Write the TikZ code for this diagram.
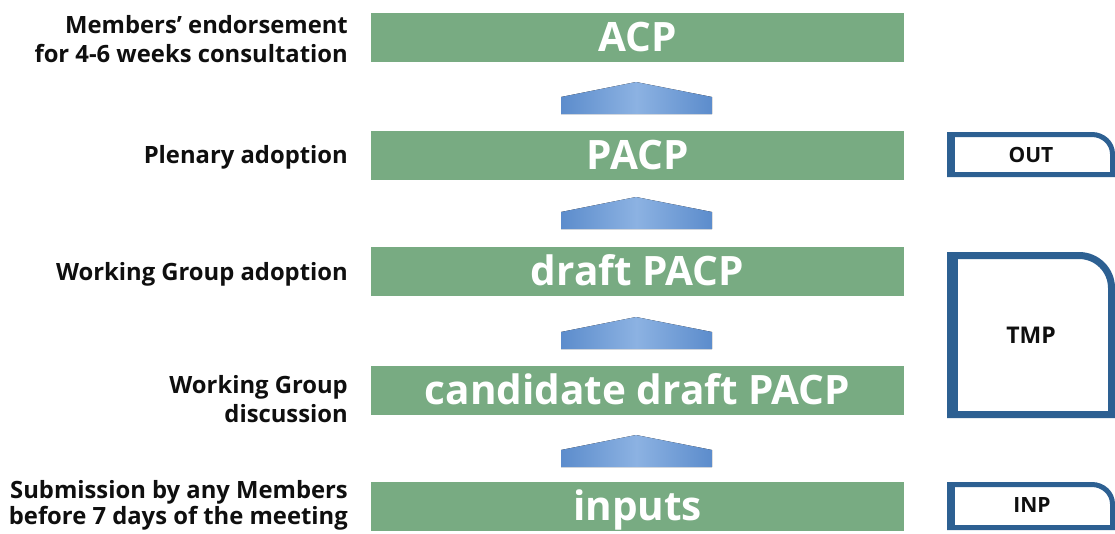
\documentclass[tikz,border=0pt]{standalone}
\usepackage{fontspec}
\setmainfont{Open Sans}
\definecolor{bargreen}{RGB}{120,171,130}
\definecolor{boxblue}{RGB}{45,96,146}
\definecolor{arrdark}{RGB}{92,140,204}
\definecolor{arrlight}{RGB}{140,178,226}
\definecolor{labelcol}{RGB}{15,15,15}
\tikzset{
  bar/.style={fill=bargreen, minimum width=533pt, minimum height=49pt, inner sep=0pt,
    text=white, font=\bfseries\fontsize{40.5}{42}\selectfont, text height=28.5pt, text depth=0pt},
  lbl/.style={anchor=base east, inner sep=0pt, text=labelcol, font=\bfseries\fontsize{23.8}{28}\selectfont},
  boxlbl/.style={inner sep=0pt, text=labelcol, font=\bfseries\fontsize{21}{24}\selectfont},
  sidebox/.style={draw=boxblue, line width=6pt, fill=white},
  upblock/.style={left color=arrdark, right color=arrdark, middle color=arrlight},
}
\newcommand\upblockat[1]{%
  \fill[upblock] (561,#1+32) -- (561,#1+15) -- (636,#1) -- (712,#1+15) -- (712,#1+32) -- cycle;}
\begin{document}
\begin{tikzpicture}[x=1pt,y=-1pt]
\useasboundingbox (0,0) rectangle (1115,533);
\fill[white] (0,0) rectangle (1115,533);

% bars
\node[bar] (acp)  at (637.5,37.5)  {ACP};
\node[bar] (pacp) at (637.5,155.5) {PACP};
\node[bar] (dpacp) at (637.5,271.5) {draft PACP};
\node[bar] (cdpacp) at (637.5,390.5) {candidate draft PACP};
\node[bar] (inp) at (637.5,506.5) {inputs};

% block arrows
\upblockat{82}
\upblockat{197}
\upblockat{317}
\upblockat{435}

% left labels
\node[lbl] (l1a) at (348,33) {Members’ endorsement};
\node[lbl] (l1b) at (348,62) {for 4-6 weeks consultation};
\node[lbl] (l2) at (348,163) {Plenary adoption};
\node[lbl] (l3) at (348,280) {Working Group adoption};
\node[lbl] (l4a) at (348,393) {Working Group};
\node[lbl] (l4b) at (348,422) {discussion};
\node[lbl] (l5a) at (348,498) {Submission by any Members};
\node[lbl] (l5b) at (348,524) {before 7 days of the meeting};

% side boxes
\draw[sidebox, line width=5pt] (949.5,174.5) -- (949.5,134.5) -- (1092,134.5)
   .. controls (1103,134.5) and (1112.5,143) .. (1112.5,154) -- (1112.5,174.5) -- cycle;
\fill[boxblue] (951,134.5) rectangle (955,174.5);
\node[boxlbl] (out) at (1031,155) {OUT};

\draw[sidebox, line width=7pt] (950.5,414.5) -- (950.5,255.5) -- (1079,255.5)
   .. controls (1097,255.5) and (1111.5,270) .. (1111.5,288) -- (1111.5,414.5) -- cycle;
\fill[boxblue] (953,255.5) rectangle (958,414.5);
\node[boxlbl, font=\bfseries\fontsize{23}{26}\selectfont] (tmp) at (1031,335) {TMP};

\draw[sidebox, line width=5pt] (949.5,527.5) -- (949.5,484.5) -- (1092,484.5)
   .. controls (1103,484.5) and (1112.5,493) .. (1112.5,504) -- (1112.5,527.5) -- cycle;
\fill[boxblue] (951,484.5) rectangle (955,527.5);
\node[boxlbl] (inpbox) at (1032,505) {INP};
\end{tikzpicture}
\end{document}
